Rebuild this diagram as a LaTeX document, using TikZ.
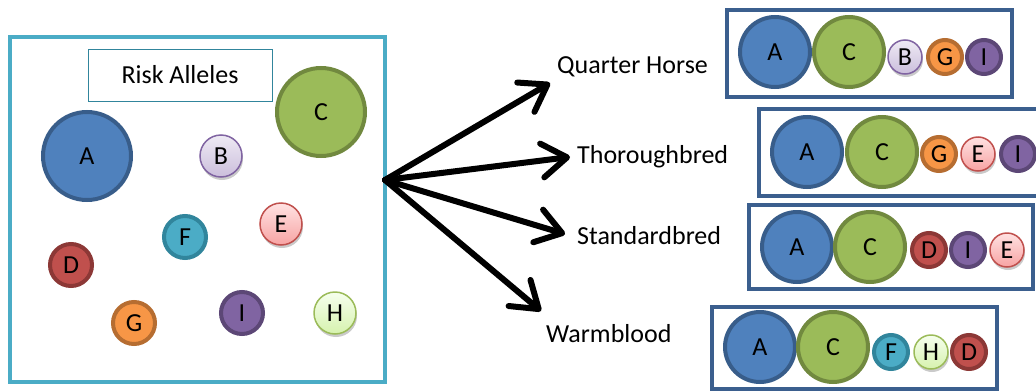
\documentclass[tikz,border=0pt]{standalone}
\usepackage{fontspec}
\setmainfont{Carlito}
\usetikzlibrary{arrows.meta,shadows}
\definecolor{aFill}{HTML}{4F81BD}\definecolor{aLine}{HTML}{385D8A}
\definecolor{cFill}{HTML}{9BBB59}\definecolor{cLine}{HTML}{71893F}
\definecolor{bTop}{HTML}{EEEAF4}\definecolor{bBot}{HTML}{CBBEDC}\definecolor{bLine}{HTML}{8064A2}
\definecolor{eTop}{HTML}{FFE2E2}\definecolor{eBot}{HTML}{F7A3A3}\definecolor{eLine}{HTML}{C0504D}
\definecolor{hTop}{HTML}{F6FFEE}\definecolor{hBot}{HTML}{D6F2AE}\definecolor{hLine}{HTML}{9BBB59}
\definecolor{fFill}{HTML}{4BACC6}\definecolor{fLine}{HTML}{31859C}
\definecolor{dFill}{HTML}{C0504D}\definecolor{dLine}{HTML}{8C3836}
\definecolor{gFill}{HTML}{F79646}\definecolor{gLine}{HTML}{B66D31}
\definecolor{iFill}{HTML}{8064A2}\definecolor{iLine}{HTML}{5C4776}
\definecolor{panelLine}{HTML}{4BACC6}
\definecolor{titleLine}{HTML}{31859C}
\definecolor{breedLine}{HTML}{3B5F8E}
\tikzset{
  al/.style={circle, inner sep=0pt, font=\fontsize{26}{26}\selectfont, text=black},
  big/.style={minimum size=70pt},
  bigL/.style={minimum size=88pt},
  small/.style={minimum size=34pt},
  smallL/.style={minimum size=42pt},
  dark/.style={line width=4pt},
  light/.style={line width=1.5pt, drop shadow={shadow xshift=1pt, shadow yshift=-3pt, opacity=0.35, fill=black!60}},
  alA/.style={al, dark, fill=aFill, draw=aLine},
  alC/.style={al, dark, fill=cFill, draw=cLine},
  alD/.style={al, dark, fill=dFill, draw=dLine},
  alF/.style={al, dark, fill=fFill, draw=fLine},
  alG/.style={al, dark, fill=gFill, draw=gLine},
  alI/.style={al, dark, fill=iFill, draw=iLine},
  alB/.style={al, light, top color=bTop, bottom color=bBot, draw=bLine},
  alE/.style={al, light, top color=eTop, bottom color=eBot, draw=eLine},
  alH/.style={al, light, top color=hTop, bottom color=hBot, draw=hLine},
  breed/.style={draw=breedLine, line width=3.5pt},
  lbl/.style={anchor=base west, font=\fontsize{26}{26}\selectfont, inner sep=0pt},
  arr/.style={line width=6pt, line cap=round, line join=round,
    -{Straight Barb[length=25pt,width=34pt,line cap=round,line join=round]}},
}
\begin{document}
\begin{tikzpicture}[x=1pt,y=-1pt]
\useasboundingbox (0,0) rectangle (1036,391);
\clip (0,0) rectangle (1036,391);
% left panel
\draw[draw=panelLine, line width=4pt] (10,37) rectangle (385,382);
\node[draw=titleLine, line width=1pt, minimum width=184pt, minimum height=52pt, inner sep=0pt,
  font=\fontsize{26}{26}\selectfont] (title) at (180,75) {Risk Alleles};
\node[alA, bigL] (lA) at (87,156) {A};
\node[alC, bigL] (lC) at (321,112) {C};
\node[alB, smallL] (lB) at (221,156) {B};
\node[alE, smallL] (lE) at (281,224) {E};
\node[alF, smallL] (lF) at (185,237) {F};
\node[alD, smallL] (lD) at (71,265) {D};
\node[alG, smallL] (lG) at (134,323) {G};
\node[alI, smallL] (lI) at (242,313) {I};
\node[alH, smallL] (lH) at (335,313) {H};
% arrows
\coordinate (src) at (385,180);
\coordinate (qhTip) at (550,83);
\coordinate (tbTip) at (570,157);
\coordinate (sbTip) at (565,234);
\coordinate (wbTip) at (541,311);
\draw[arr] (src) -- (qhTip);
\draw[arr] (src) -- (tbTip);
\draw[arr] (src) -- (sbTip);
\draw[arr] (src) -- (wbTip);
% labels
\node[lbl] (qh) at (557,73) {Quarter Horse};
\node[lbl] (tb) at (577,163) {Thoroughbred};
\node[lbl] (sb) at (577,244) {Standardbred};
\node[lbl] (wb) at (546,342) {Warmblood};
% breed boxes
\draw[breed] (727,10) rectangle (1012,97);
\draw[breed] (759,109) rectangle (1045,196);
\draw[breed] (749,205) rectangle (1033,289);
\draw[breed] (712,307) rectangle (997,389);
% quarter horse
\node[alA, big] (q1) at (775,52) {A};
\node[alC, big] (q2) at (849,52) {C};
\node[alB, small] (q3) at (905,57) {B};
\node[alG, small] (q4) at (945,57) {G};
\node[alI, small] (q5) at (984,57) {I};
% thoroughbred
\node[alA, big] (t1) at (807,152) {A};
\node[alC, big] (t2) at (882,152) {C};
\node[alG, small] (t3) at (939,154) {G};
\node[alE, small] (t4) at (978,154) {E};
\node[alI, small] (t5) at (1018,154) {I};
% standardbred
\node[alA, big] (s1) at (797,247) {A};
\node[alC, big] (s2) at (870,247) {C};
\node[alD, small] (s3) at (929,250) {D};
\node[alI, small] (s4) at (968,250) {I};
\node[alE, small] (s5) at (1007,250) {E};
% warmblood
\node[alA, big] (w1) at (760,347) {A};
\node[alC, big] (w2) at (833,347) {C};
\node[alF, small] (w3) at (891,352) {F};
\node[alH, small] (w4) at (931,352) {H};
\node[alD, small] (w5) at (969,352) {D};
\end{tikzpicture}
\end{document}
